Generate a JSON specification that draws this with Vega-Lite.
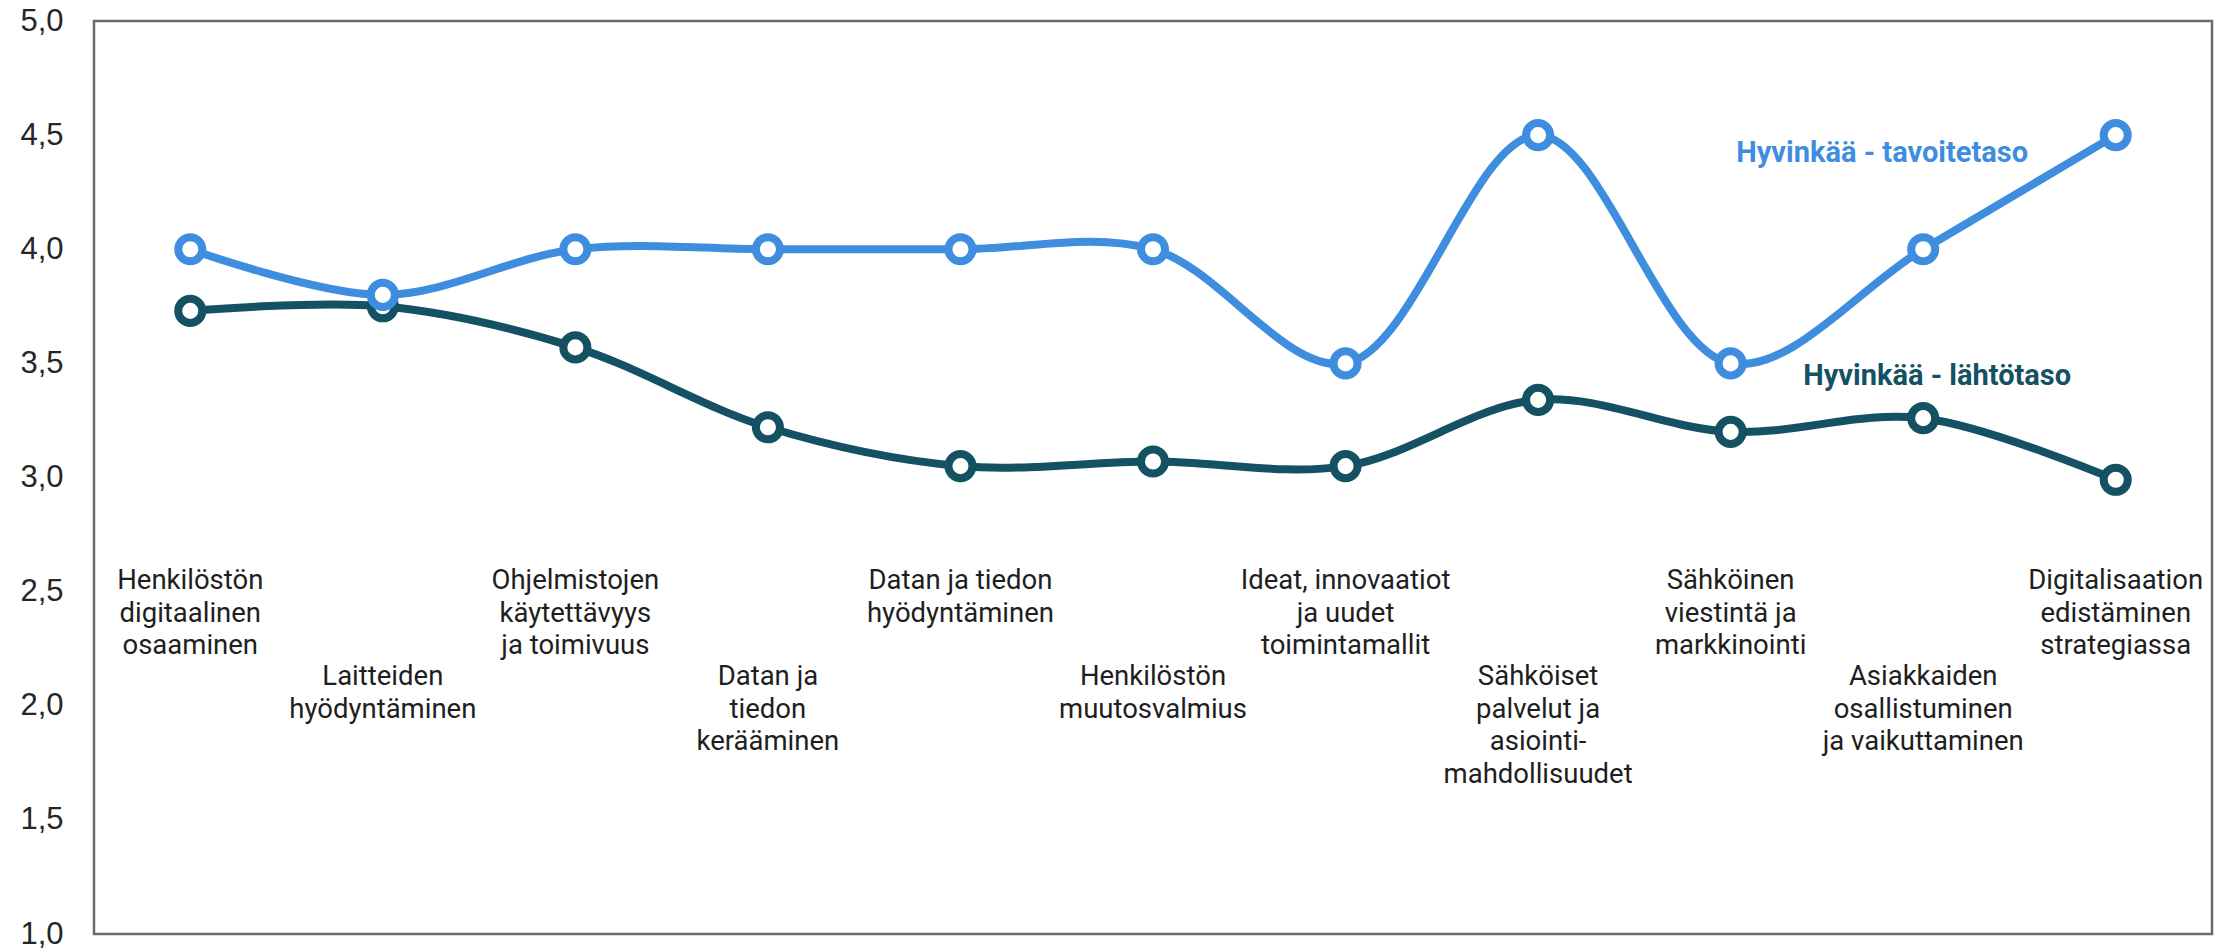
{
  "$schema": "https://vega.github.io/schema/vega-lite/v6.json",
  "width": 2118,
  "height": 913,
  "autosize": "none",
  "padding": {"left": 94, "top": 21, "right": 22, "bottom": 14},
  "background": "white",
  "config": {
    "view": {"stroke": "#6b6b6b", "strokeWidth": 2.5},
    "axisY": {"labelFont": "Liberation Sans", "labelFontSize": 31, "labelColor": "#262626", "ticks": false, "domain": false, "grid": false, "labelPadding": 31, "labelFlush": false, "labelOverlap": false}
  },
  "data": {"values": [
    {"kohde": "Henkilöstön\ndigitaalinen\nosaaminen", "sarja": "Hyvinkää - lähtötaso", "arvo": 3.73},
    {"kohde": "Laitteiden\nhyödyntäminen", "sarja": "Hyvinkää - lähtötaso", "arvo": 3.75},
    {"kohde": "Ohjelmistojen\nkäytettävyys\nja toimivuus", "sarja": "Hyvinkää - lähtötaso", "arvo": 3.57},
    {"kohde": "Datan ja\ntiedon\nkerääminen", "sarja": "Hyvinkää - lähtötaso", "arvo": 3.22},
    {"kohde": "Datan ja tiedon\nhyödyntäminen", "sarja": "Hyvinkää - lähtötaso", "arvo": 3.05},
    {"kohde": "Henkilöstön\nmuutosvalmius", "sarja": "Hyvinkää - lähtötaso", "arvo": 3.07},
    {"kohde": "Ideat, innovaatiot\nja uudet\ntoimintamallit", "sarja": "Hyvinkää - lähtötaso", "arvo": 3.05},
    {"kohde": "Sähköiset\npalvelut ja\nasiointi-\nmahdollisuudet", "sarja": "Hyvinkää - lähtötaso", "arvo": 3.34},
    {"kohde": "Sähköinen\nviestintä ja\nmarkkinointi", "sarja": "Hyvinkää - lähtötaso", "arvo": 3.20},
    {"kohde": "Asiakkaiden\nosallistuminen\nja vaikuttaminen", "sarja": "Hyvinkää - lähtötaso", "arvo": 3.26},
    {"kohde": "Digitalisaation\nedistäminen\nstrategiassa", "sarja": "Hyvinkää - lähtötaso", "arvo": 2.99},
    {"kohde": "Henkilöstön\ndigitaalinen\nosaaminen", "sarja": "Hyvinkää - tavoitetaso", "arvo": 4.0},
    {"kohde": "Laitteiden\nhyödyntäminen", "sarja": "Hyvinkää - tavoitetaso", "arvo": 3.8},
    {"kohde": "Ohjelmistojen\nkäytettävyys\nja toimivuus", "sarja": "Hyvinkää - tavoitetaso", "arvo": 4.0},
    {"kohde": "Datan ja\ntiedon\nkerääminen", "sarja": "Hyvinkää - tavoitetaso", "arvo": 4.0},
    {"kohde": "Datan ja tiedon\nhyödyntäminen", "sarja": "Hyvinkää - tavoitetaso", "arvo": 4.0},
    {"kohde": "Henkilöstön\nmuutosvalmius", "sarja": "Hyvinkää - tavoitetaso", "arvo": 4.0},
    {"kohde": "Ideat, innovaatiot\nja uudet\ntoimintamallit", "sarja": "Hyvinkää - tavoitetaso", "arvo": 3.5},
    {"kohde": "Sähköiset\npalvelut ja\nasiointi-\nmahdollisuudet", "sarja": "Hyvinkää - tavoitetaso", "arvo": 4.5},
    {"kohde": "Sähköinen\nviestintä ja\nmarkkinointi", "sarja": "Hyvinkää - tavoitetaso", "arvo": 3.5},
    {"kohde": "Asiakkaiden\nosallistuminen\nja vaikuttaminen", "sarja": "Hyvinkää - tavoitetaso", "arvo": 4.0},
    {"kohde": "Digitalisaation\nedistäminen\nstrategiassa", "sarja": "Hyvinkää - tavoitetaso", "arvo": 4.5}
  ]},
  "encoding": {
    "x": {
      "field": "kohde", "type": "nominal", "axis": null,
      "scale": {"type": "point", "padding": 0.5, "domain": [
        "Henkilöstön\ndigitaalinen\nosaaminen",
        "Laitteiden\nhyödyntäminen",
        "Ohjelmistojen\nkäytettävyys\nja toimivuus",
        "Datan ja\ntiedon\nkerääminen",
        "Datan ja tiedon\nhyödyntäminen",
        "Henkilöstön\nmuutosvalmius",
        "Ideat, innovaatiot\nja uudet\ntoimintamallit",
        "Sähköiset\npalvelut ja\nasiointi-\nmahdollisuudet",
        "Sähköinen\nviestintä ja\nmarkkinointi",
        "Asiakkaiden\nosallistuminen\nja vaikuttaminen",
        "Digitalisaation\nedistäminen\nstrategiassa"
      ]}
    }
  },
  "layer": [
    {
      "mark": {"type": "line", "interpolate": "catmull-rom", "strokeWidth": 8, "strokeCap": "round"},
      "encoding": {
        "y": {"field": "arvo", "type": "quantitative", "title": null,
              "scale": {"domain": [1, 5], "nice": false, "zero": false},
              "axis": {"values": [1, 1.5, 2, 2.5, 3, 3.5, 4, 4.5, 5], "labelExpr": "replace(format(datum.value, '.1f'), '.', ',')"}},
        "color": {"field": "sarja", "type": "nominal", "legend": null,
                  "scale": {"domain": ["Hyvinkää - lähtötaso", "Hyvinkää - tavoitetaso"], "range": ["#135163", "#3e8ddf"]}}
      }
    },
    {
      "mark": {"type": "point", "shape": "circle", "filled": true, "fill": "white", "size": 580, "strokeWidth": 8, "opacity": 1},
      "encoding": {
        "y": {"field": "arvo", "type": "quantitative"},
        "stroke": {"field": "sarja", "type": "nominal", "legend": null,
                   "scale": {"domain": ["Hyvinkää - lähtötaso", "Hyvinkää - tavoitetaso"], "range": ["#135163", "#3e8ddf"]}}
      }
    },
    {
      "transform": [
        {"filter": {"field": "sarja", "equal": "Hyvinkää - lähtötaso"}},
        {"filter": {"field": "kohde", "oneOf": [
          "Henkilöstön\ndigitaalinen\nosaaminen",
          "Ohjelmistojen\nkäytettävyys\nja toimivuus",
          "Datan ja tiedon\nhyödyntäminen",
          "Ideat, innovaatiot\nja uudet\ntoimintamallit",
          "Sähköinen\nviestintä ja\nmarkkinointi",
          "Digitalisaation\nedistäminen\nstrategiassa"
        ]}}
      ],
      "mark": {"type": "text", "font": "Roboto", "fontSize": 27.5, "lineHeight": 32.5, "lineBreak": "\n", "align": "center", "baseline": "alphabetic", "color": "#1e1e1e"},
      "encoding": {"y": {"datum": 2.51}, "text": {"field": "kohde"}}
    },
    {
      "transform": [
        {"filter": {"field": "sarja", "equal": "Hyvinkää - lähtötaso"}},
        {"filter": {"field": "kohde", "oneOf": [
          "Laitteiden\nhyödyntäminen",
          "Datan ja\ntiedon\nkerääminen",
          "Henkilöstön\nmuutosvalmius",
          "Sähköiset\npalvelut ja\nasiointi-\nmahdollisuudet",
          "Asiakkaiden\nosallistuminen\nja vaikuttaminen"
        ]}}
      ],
      "mark": {"type": "text", "font": "Roboto", "fontSize": 27.5, "lineHeight": 32.5, "lineBreak": "\n", "align": "center", "baseline": "alphabetic", "color": "#1e1e1e"},
      "encoding": {"y": {"datum": 2.09}, "text": {"field": "kohde"}}
    },
    {
      "transform": [
        {"filter": {"field": "sarja", "equal": "Hyvinkää - tavoitetaso"}},
        {"filter": {"field": "kohde", "equal": "Asiakkaiden\nosallistuminen\nja vaikuttaminen"}}
      ],
      "mark": {"type": "text", "font": "Roboto", "fontWeight": "bold", "fontSize": 29, "align": "center", "baseline": "middle", "dx": -41, "color": "#3e8ddf"},
      "encoding": {"y": {"datum": 4.42}, "text": {"field": "sarja"}}
    },
    {
      "transform": [
        {"filter": {"field": "sarja", "equal": "Hyvinkää - lähtötaso"}},
        {"filter": {"field": "kohde", "equal": "Asiakkaiden\nosallistuminen\nja vaikuttaminen"}}
      ],
      "mark": {"type": "text", "font": "Roboto", "fontWeight": "bold", "fontSize": 29, "align": "center", "baseline": "middle", "dx": 14, "color": "#135163"},
      "encoding": {"y": {"datum": 3.445}, "text": {"field": "sarja"}}
    }
  ]
}
